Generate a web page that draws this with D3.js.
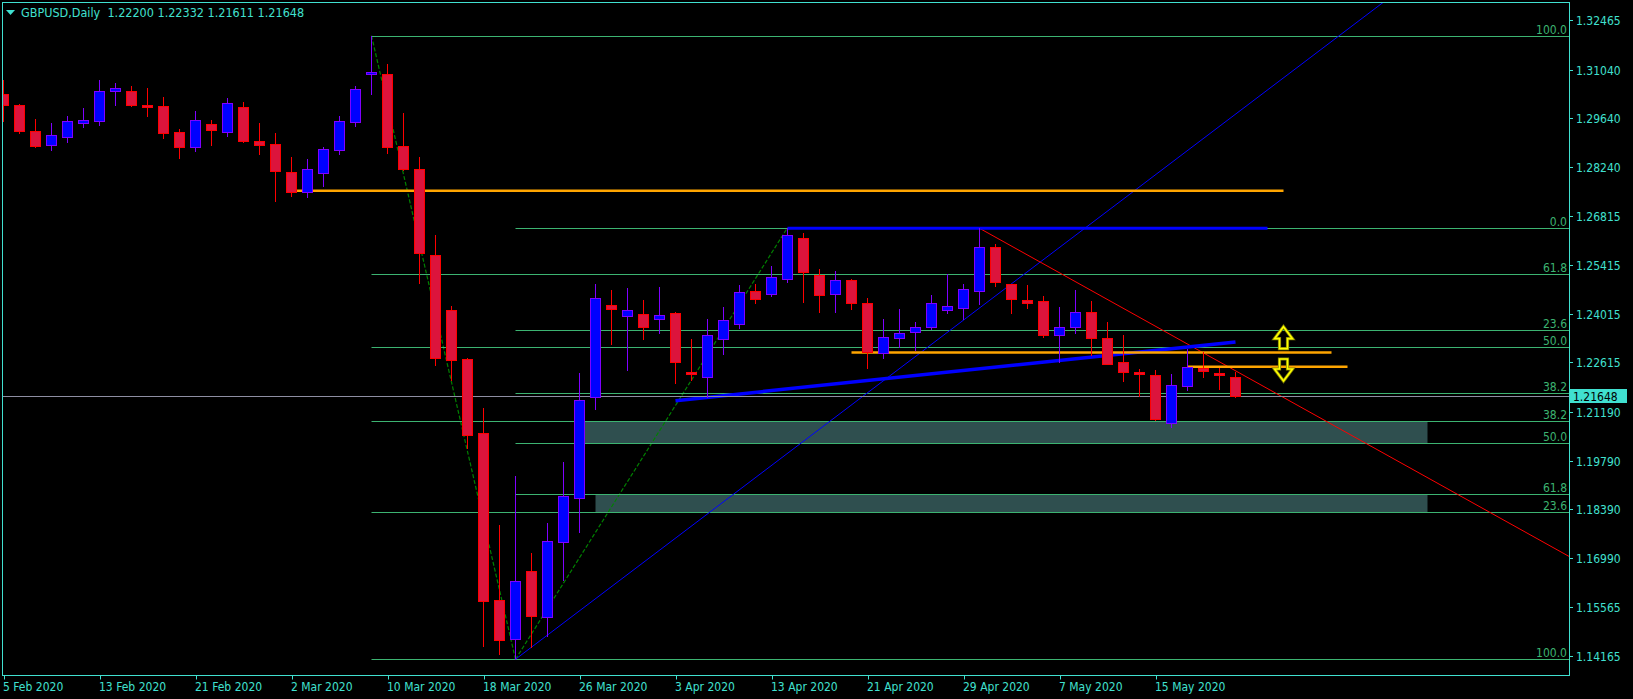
<!DOCTYPE html>
<html><head><meta charset="utf-8">
<script src="https://cdn.jsdelivr.net/npm/d3@7/dist/d3.min.js"></script>
<style>
html,body{margin:0;padding:0;background:#000;overflow:hidden}
svg{display:block}
text{font-family:"DejaVu Sans Condensed","DejaVu Sans",sans-serif;font-size:12px}
</style></head><body>
<svg id="c" width="1633" height="699"></svg>
<script>
// ---------------- DATA ----------------
const symbolTitle = "GBPUSD,Daily";
const lastOHLC = [1.22200, 1.22332, 1.21611, 1.21648];

const open = [
1.30336,1.30019,1.29271,1.28877,1.29090,1.29493,1.29568,1.30414,1.30414,1.30019,
1.29982,1.29234,1.28820,1.29464,1.29234,1.29953,1.28975,1.28889,1.28083,1.27508,
1.28054,1.28716,1.29522,1.30903,1.30911,1.28831,1.28169,1.25695,1.24121,1.22711,
1.20574,1.15769,1.14646,1.16612,1.15279,1.17455,1.18721,1.21609,1.24256,1.23940,
1.23997,1.23854,1.24026,1.22337,1.22185,1.23278,1.23727,1.24659,1.24573,1.25022,
1.26184,1.25120,1.24573,1.24976,1.24314,1.22875,1.23307,1.23479,1.23641,1.24112,
1.24170,1.24659,1.25925,1.24869,1.24400,1.24380,1.23393,1.23623,1.24064,1.23315,
1.22616,1.22337,1.22251,1.20879,1.21943,1.22452,1.22308,1.22200];
const high = [
1.30739,1.30048,1.29617,1.29501,1.29703,1.29933,1.30739,1.30652,1.30566,1.30509,
1.30250,1.29329,1.29847,1.29588,1.30229,1.30106,1.29501,1.29214,1.28523,1.28466,
1.28800,1.29703,1.30566,1.32013,1.31208,1.29789,1.28523,1.26279,1.24236,1.22740,
1.21301,1.17935,1.19354,1.17130,1.17993,1.19748,1.22308,1.24869,1.24697,1.24754,
1.24409,1.24783,1.24055,1.23287,1.23862,1.24207,1.24840,1.24869,1.25387,1.26489,
1.26337,1.25301,1.25243,1.25013,1.24466,1.23862,1.24150,1.23776,1.24553,1.25166,
1.24869,1.26472,1.26029,1.24869,1.24840,1.24524,1.24207,1.24697,1.24380,1.23776,
1.23402,1.22424,1.22395,1.22280,1.22990,1.22904,1.22444,1.22332];
const low = [
1.29568,1.29222,1.28811,1.28733,1.28963,1.29395,1.29453,1.30028,1.29991,1.29712,
1.29079,1.28503,1.28705,1.28877,1.29136,1.28963,1.28618,1.27266,1.27410,1.27381,
1.27697,1.28618,1.29424,1.30344,1.28647,1.28149,1.24907,1.22547,1.22107,1.20142,
1.14462,1.14232,1.14071,1.14434,1.14750,1.16353,1.17742,1.21273,1.23152,1.22403,
1.23295,1.23468,1.22029,1.22107,1.21627,1.22855,1.23612,1.24323,1.24524,1.24927,
1.24351,1.24064,1.24064,1.24150,1.22461,1.22749,1.23057,1.22979,1.23574,1.24043,
1.23862,1.24302,1.24820,1.24043,1.24187,1.23353,1.22634,1.23468,1.22826,1.22559,
1.22087,1.21655,1.20956,1.20763,1.21819,1.22202,1.21848,1.21611];
const close = [
1.30028,1.29280,1.28848,1.29148,1.29550,1.29579,1.30414,1.30500,1.30028,1.29970,
1.29222,1.28820,1.29579,1.29309,1.30068,1.28992,1.28860,1.28129,1.27525,1.28169,
1.28745,1.29550,1.30471,1.30960,1.28820,1.28187,1.25770,1.22749,1.22691,1.20525,
1.15757,1.14635,1.16315,1.15325,1.17475,1.18770,1.21532,1.24458,1.24141,1.24112,
1.23641,1.23969,1.22634,1.22288,1.23393,1.23825,1.24630,1.24446,1.25062,1.26270,
1.25223,1.24561,1.24976,1.24331,1.22921,1.23344,1.23451,1.23632,1.24314,1.24228,
1.24717,1.25925,1.24918,1.24429,1.24331,1.23410,1.23623,1.24055,1.23324,1.22576,
1.22346,1.22288,1.20985,1.21955,1.22472,1.22375,1.22242,1.21648];

const dateTickIndex  = [0,6,12,18,24,30,36,42,48,54,60,66,72];
const dateTickLabels = ["5 Feb 2020","13 Feb 2020","21 Feb 2020","2 Mar 2020","10 Mar 2020","18 Mar 2020",
  "26 Mar 2020","3 Apr 2020","13 Apr 2020","21 Apr 2020","29 Apr 2020","7 May 2020","15 May 2020"];
const priceTicks = [1.32465,1.31040,1.29640,1.28240,1.26815,1.25415,1.24015,1.22615,1.21190,1.19790,1.18390,1.16990,1.15565,1.14165];

// Fibonacci retracements: [first point (100%), second point (0%)]
const fibLevels = [0, 23.6, 38.2, 50.0, 61.8, 100.0];
const fib1Index = [23, 32], fib1Price = [1.32013, 1.14071];
const fib2Index = [32, 49], fib2Price = [1.14071, 1.26489];

// filled rectangles
const rectStart = [36, 37], rectEnd = [89, 89];
const rectTop = [1.20925, 1.18815], rectBottom = [1.20280, 1.18305];

// horizontal segments
const orangeStart = [18, 53, 74], orangeEnd = [80, 83, 84], orangePrice = [1.27554, 1.22898, 1.22490];
const blueHStart = [49], blueHEnd = [79], blueHPrice = [1.26472];

// trend lines
const blueTrendIndex = [42, 77], blueTrendPrice = [1.21512, 1.23200];
const blueRayIndex = [32, 60], blueRayPrice = [1.14071, 1.23830];
const redRayIndex = [61, 77], redRayPrice = [1.26472, 1.22372];

// arrows
const arrowIndex = [80, 80], arrowPrice = [1.23641, 1.22078], arrowDir = ["up", "down"];

// ---------------- DRAW ----------------
const W = 1633, H = 699;
const L = 2.5, T = 2.5, R = 1569.5, B = 675.5;
const AX = "#40E0D0", FIB = "#3CB371";
const svg = d3.select("#c");
svg.append("rect").attr("width", W).attr("height", H).attr("fill", "#000");

const x = d3.scaleLinear().domain([0, 1]).range([3.5, 19.5]);
const y = d3.scaleLinear().domain([1.14165, 1.32465]).range([656, 20]);
const cy = v => Math.round(y(v)) + 0.5;

svg.append("clipPath").attr("id", "clip").append("rect")
  .attr("x", 3).attr("y", 3).attr("width", R - 3.5).attr("height", B - 3.5);
const g = svg.append("g").attr("clip-path", "url(#clip)");

// rectangles
g.selectAll("rect.zone").data(rectStart).join("rect").attr("class", "zone")
  .attr("x", (d, i) => x(rectStart[i]))
  .attr("width", (d, i) => x(rectEnd[i]) - x(rectStart[i]))
  .attr("y", (d, i) => y(rectTop[i]))
  .attr("height", (d, i) => y(rectBottom[i]) - y(rectTop[i]))
  .attr("fill", "#2F4F4F");

// fib
const usedLabelY = new Set();
function drawFib(idx, pr) {
  const x0 = x(Math.min(idx[0], idx[1]));
  g.append("line").attr("x1", x(idx[0])).attr("y1", y(pr[0])).attr("x2", x(idx[1])).attr("y2", y(pr[1]))
    .attr("stroke", "#008000").attr("stroke-width", 1.2).attr("stroke-dasharray", "4,2");
  fibLevels.forEach(lv => {
    const p = pr[1] + (pr[0] - pr[1]) * lv / 100;
    const yy = cy(p);
    g.append("line").attr("x1", x0).attr("x2", R).attr("y1", yy).attr("y2", yy)
      .attr("stroke", FIB).attr("stroke-width", 1);
    if (usedLabelY.has(yy)) return;   // coincident level: label drawn once
    usedLabelY.add(yy);
    svg.append("text").attr("x", 1567).attr("y", yy - 3).attr("text-anchor", "end")
      .attr("fill", FIB).text(lv.toFixed(1));
  });
}
drawFib(fib2Index, fib2Price);
drawFib(fib1Index, fib1Price);

// rays / trend lines
function ray(idx, pr, color, width, extend) {
  const x1 = x(idx[0]), y1 = y(pr[0]), x2 = x(idx[1]), y2 = y(pr[1]);
  let ex = x2, ey = y2;
  if (extend) { const s = (y2 - y1) / (x2 - x1); ex = R; ey = y1 + s * (R - x1); }
  g.append("line").attr("x1", x1).attr("y1", y1).attr("x2", ex).attr("y2", ey)
    .attr("stroke", color).attr("stroke-width", width);
}
ray(blueRayIndex, blueRayPrice, "#0000FF", 1, true);
ray(redRayIndex, redRayPrice, "#FF0000", 1, true);
ray(blueTrendIndex, blueTrendPrice, "#0000FF", 3.5, false);

// horizontal segments
orangePrice.forEach((p, i) => {
  g.append("line").attr("x1", x(orangeStart[i])).attr("x2", x(orangeEnd[i]))
    .attr("y1", y(p)).attr("y2", y(p)).attr("stroke", "#FFA500").attr("stroke-width", 2.5);
});
blueHPrice.forEach((p, i) => {
  g.append("line").attr("x1", x(blueHStart[i])).attr("x2", x(blueHEnd[i]))
    .attr("y1", y(p)).attr("y2", y(p)).attr("stroke", "#0000FF").attr("stroke-width", 3);
});

// bid line
g.append("line").attr("x1", L).attr("x2", R).attr("y1", cy(lastOHLC[3])).attr("y2", cy(lastOHLC[3]))
  .attr("stroke", "#8E8EA2").attr("stroke-width", 1);

// candles
const idx = d3.range(open.length);
const cg = g.append("g");
cg.selectAll("line.w").data(idx).join("line").attr("class", "w")
  .attr("x1", i => x(i)).attr("x2", i => x(i))
  .attr("y1", i => Math.round(y(high[i]))).attr("y2", i => Math.round(y(low[i])) + 1)
  .attr("stroke", i => close[i] >= open[i] ? "#8000FF" : "#FF0000").attr("stroke-width", 1);
cg.selectAll("rect.b").data(idx).join("rect").attr("class", "b")
  .attr("x", i => x(i) - 5)
  .attr("width", 10)
  .attr("y", i => Math.round(y(Math.max(open[i], close[i]))) + 0.5)
  .attr("height", i => Math.max(1, Math.round(y(Math.min(open[i], close[i]))) - Math.round(y(Math.max(open[i], close[i])))))
  .attr("fill", i => close[i] >= open[i] ? "#0000FF" : "#DC143C")
  .attr("stroke", i => close[i] >= open[i] ? "#8000FF" : "#FF0000").attr("stroke-width", 1);

// arrows
arrowPrice.forEach((p, i) => {
  const ax = x(arrowIndex[i]), ay = y(p);
  const up = "M0,0 L9,12 L4,12 L4,22 L-4,22 L-4,12 L-9,12 Z";
  const path = arrowDir[i] === "up" ? up : "M0,0 L9,-12 L4,-12 L4,-22 L-4,-22 L-4,-12 L-9,-12 Z";
  g.append("path").attr("d", path).attr("transform", `translate(${ax},${ay})`)
    .attr("fill", "none").attr("stroke", "#808000").attr("stroke-width", 3.2).attr("stroke-linejoin", "miter");
  g.append("path").attr("d", path).attr("transform", `translate(${ax},${ay})`)
    .attr("fill", "none").attr("stroke", "#FFFF00").attr("stroke-width", 1.6).attr("stroke-linejoin", "miter");
});

// frame
svg.append("rect").attr("x", L).attr("y", T).attr("width", R - L).attr("height", B - T)
  .attr("fill", "none").attr("stroke", AX).attr("stroke-width", 1);

// price axis
const ya = svg.append("g");
priceTicks.forEach(p => {
  const yy = cy(p);
  ya.append("line").attr("x1", R).attr("x2", R + 3.5).attr("y1", yy).attr("y2", yy).attr("stroke", AX);
  ya.append("text").attr("x", 1576).attr("y", yy).attr("dy", "0.36em").attr("fill", AX).text(p.toFixed(5));
});
// last price label
const by = cy(lastOHLC[3]);
svg.append("rect").attr("x", 1570).attr("y", by - 7.5).attr("width", 57).attr("height", 14).attr("fill", AX);
svg.append("text").attr("x", 1573).attr("y", by).attr("dy", "0.36em").attr("fill", "#000").text(lastOHLC[3].toFixed(5));

// date axis
dateTickIndex.forEach((d, k) => {
  const xx = Math.round(x(d)) + 0.5;
  svg.append("line").attr("x1", xx).attr("x2", xx).attr("y1", B).attr("y2", B + 4).attr("stroke", AX);
  svg.append("text").attr("x", xx - 1.5).attr("y", 691).attr("fill", AX).text(dateTickLabels[k]);
});

// header
svg.append("path").attr("d", "M6,10 L15,10 L10.5,15 Z").attr("fill", AX);
svg.append("text").attr("x", 21).attr("y", 17).attr("fill", AX).attr("xml:space", "preserve")
  .style("font-size", "12.5px")
  .text(symbolTitle + "  " + lastOHLC.map(v => v.toFixed(5)).join(" "));
</script>
</body></html>
